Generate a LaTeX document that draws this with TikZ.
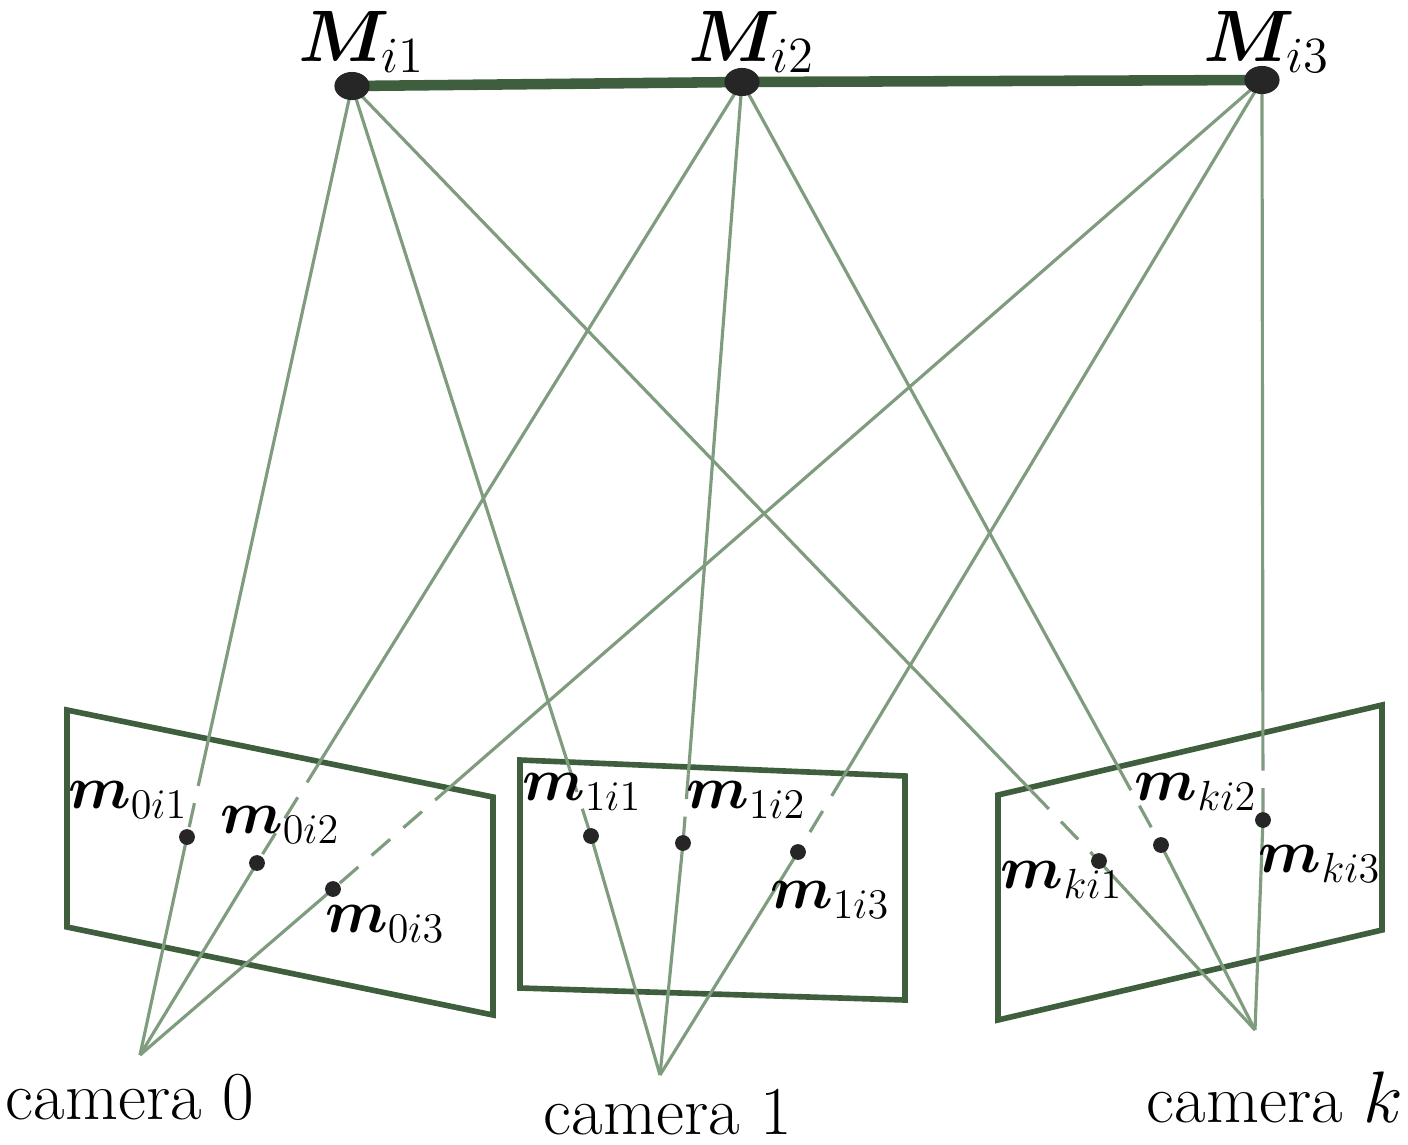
\documentclass[tikz,border=0pt]{standalone}
\usepackage{bm}
\usetikzlibrary{calc,shapes.geometric}
\definecolor{ray}{HTML}{7F9C7F}
\definecolor{dk}{HTML}{3E5E3E}
\begin{document}
\begin{tikzpicture}[x=0.01cm,y=-0.01cm,
  rayl/.style={ray,line width=0.9pt},
  dsh/.style={rayl,dash pattern=on 7pt off 5pt},
  plane/.style={dk,line width=1.6pt},
  dot/.style={circle,fill=black!85,inner sep=0pt,minimum size=4.5pt},
  big/.style={ellipse,fill=black!85,inner sep=0pt,minimum width=10pt,minimum height=8pt},
  lab/.style={font=\fontsize{19.5}{22}\selectfont,inner sep=0pt},
  mlab/.style={font=\fontsize{18}{20}\selectfont,inner sep=0pt}]
\useasboundingbox (0,0) rectangle (1408,1144);
\coordinate (M1) at (352,86); \coordinate (M2) at (742,82); \coordinate (M3) at (1262,80);
\coordinate (c0) at (140,1055); \coordinate (c1) at (660,1075); \coordinate (ck) at (1255,1030);
\coordinate (a01) at (187,837); \coordinate (a02) at (257,863); \coordinate (a03) at (333,889);
\coordinate (a11) at (591,836); \coordinate (a12) at (683,843); \coordinate (a13) at (798,852);
\coordinate (ak1) at (1099,861); \coordinate (ak2) at (1161,845); \coordinate (ak3) at (1263,820);
\draw[plane] (67,710) -- (493,797) -- (493,1015) -- (67,927) -- cycle;
\draw[plane] (520,760) -- (905,776) -- (905,1000) -- (520,988) -- cycle;
\draw[plane] (998,795) -- (1382,705) -- (1382,930) -- (998,1020) -- cycle;
\foreach \M/\m/\c/\f in {M1/a01/c0/0.90,M2/a02/c0/0.87,M3/a03/c0/0.87,
  M1/a11/c1/0.91,M2/a12/c1/0.91,M3/a13/c1/0.90,
  M1/ak1/ck/0.91,M2/ak2/ck/0.90,M3/ak3/ck/0.90}{
  \draw[rayl] (\M) -- ($(\M)!\f!(\m)$);
  \draw[dsh] ($(\M)!\f!(\m)$) -- (\m);
  \draw[rayl] (\m) -- (\c);
}
\draw[dk,line width=3pt] (M1) -- (M2) -- (M3);
\foreach \p in {M1,M2,M3} \node[big] (n\p) at (\p) {};
\foreach \p in {a01,a02,a03,a11,a12,a13,ak1,ak2,ak3} \node[dot] (n\p) at (\p) {};
\node[lab] (L1) at (362,42) {$\bm{M}_{i1}$};
\node[lab] (L2) at (752,42) {$\bm{M}_{i2}$};
\node[lab] (L3) at (1267,42) {$\bm{M}_{i3}$};
\node[mlab] (l01) at (128,800) {$\bm{m}_{0i1}$};
\node[mlab] (l02) at (280,825) {$\bm{m}_{0i2}$};
\node[mlab] (l03) at (385,924) {$\bm{m}_{0i3}$};
\node[mlab] (l11) at (582,792) {$\bm{m}_{1i1}$};
\node[mlab] (l12) at (746,800) {$\bm{m}_{1i2}$};
\node[mlab] (l13) at (830,900) {$\bm{m}_{1i3}$};
\node[mlab] (lk1) at (1062,880) {$\bm{m}_{ki1}$};
\node[mlab] (lk2) at (1196,792) {$\bm{m}_{ki2}$};
\node[mlab] (lk3) at (1320,864) {$\bm{m}_{ki3}$};
\node[lab] (t0) at (130,1097) {camera 0};
\node[lab] (t1) at (668,1112) {camera 1};
\node[lab] (tk) at (1275,1097) {camera $k$};
\end{tikzpicture}
\end{document}
